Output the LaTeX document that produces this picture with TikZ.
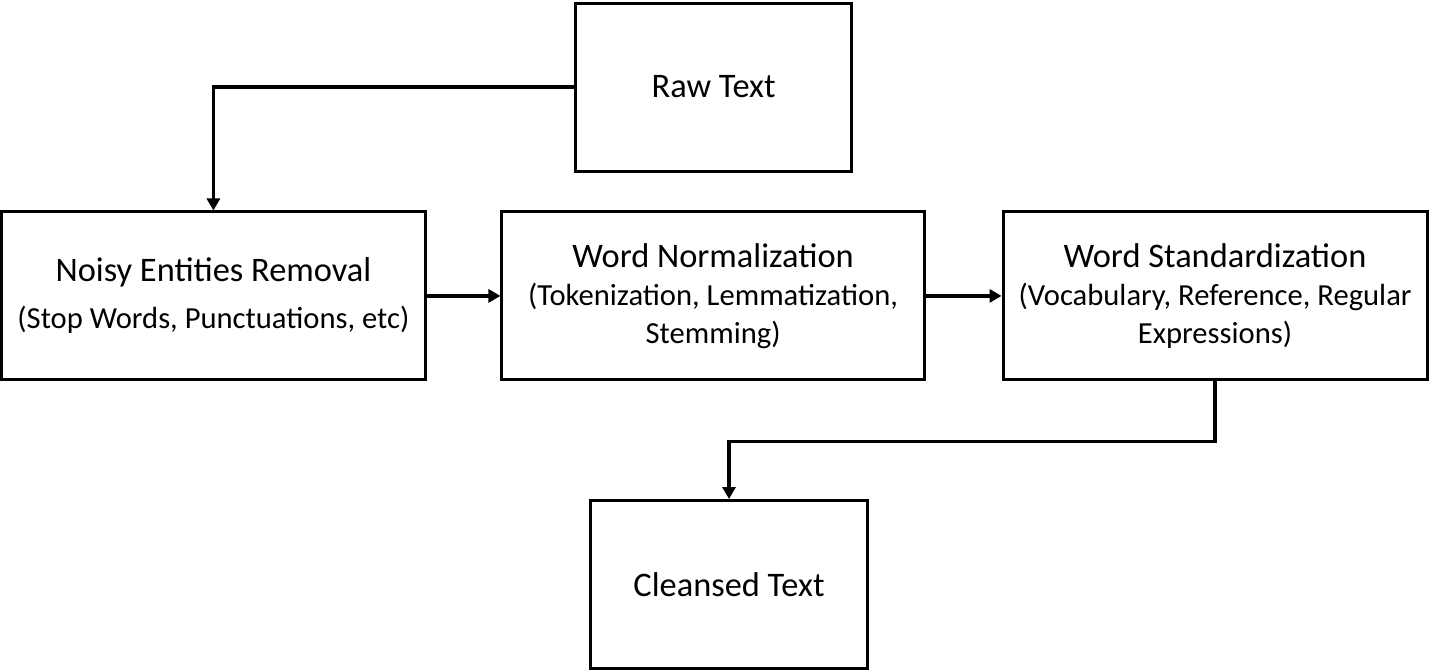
\documentclass[tikz,border=0pt]{standalone}
\usepackage{fontspec}
\setmainfont{Carlito}
\usetikzlibrary{arrows.meta}
\newcommand{\headfont}{\fontsize{17.2}{19}\selectfont}

\begin{document}
\begin{tikzpicture}
% Define the node styles
\tikzstyle{stage} = [draw, rectangle, line width=1.5pt, align=center, font=\fontsize{15.3}{19}\selectfont, minimum height=2.95cm, inner sep=2pt]
\tikzstyle{endpoint} = [stage, minimum width=4.86cm]
\tikzstyle{process} = [stage, minimum width=7.45cm]
\tikzstyle{link} = [line width=1.6pt, -{Triangle[length=6pt, width=6.5pt]}]

\useasboundingbox (0,0) rectangle (25.11,-11.79);

% Define the nodes
\node[endpoint] (raw) at (12.54, -1.53) {\headfont Raw Text};
\node[process] (noisy) at (3.75, -5.20) {{\headfont Noisy Entities Removal}\\[4.5pt](Stop Words, Punctuations, etc)};
\node[process, minimum width=7.42cm] (norm) at (12.53, -5.20) {{\headfont Word Normalization}\\(Tokenization, Lemmatization,\\Stemming)};
\node[process] (std) at (21.35, -5.20) {{\headfont Word Standardization}\\(Vocabulary, Reference, Regular\\Expressions)};
\node[endpoint] (clean) at (12.81, -10.27) {\headfont Cleansed Text};

% Define the transitions
\draw[link] (raw.west) -| (noisy.north);
\draw[link] (noisy) -- (norm);
\draw[link] (norm) -- (std);
\draw[link] (std.south) -- ++(0,-1.05) -| (clean.north);

\end{tikzpicture}
\end{document}
